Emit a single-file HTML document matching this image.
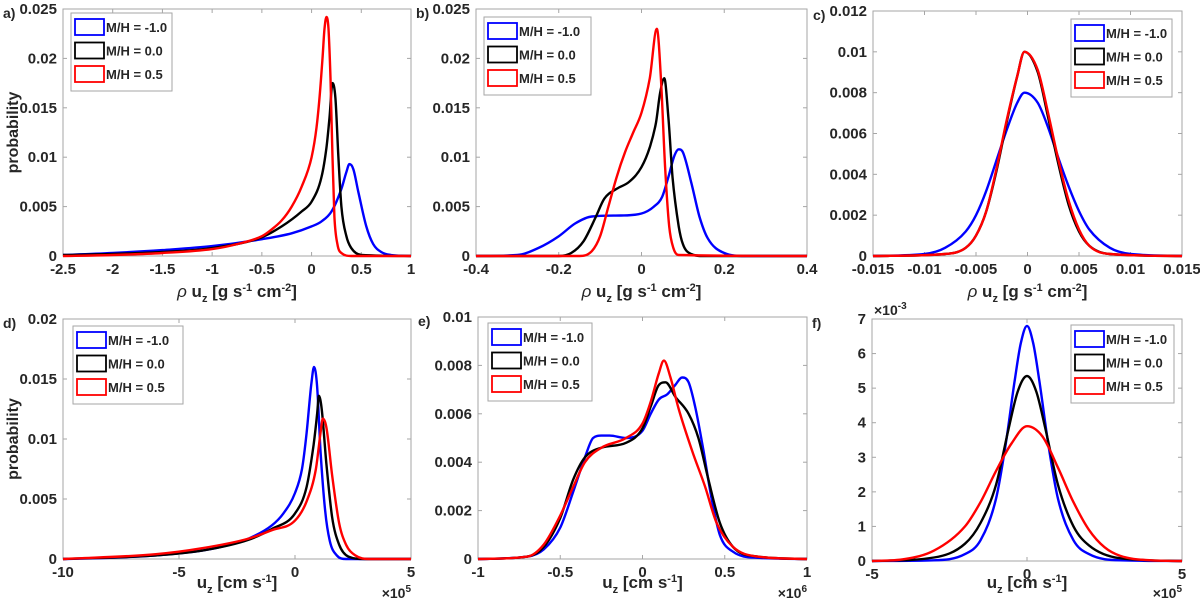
<!DOCTYPE html>
<html><head><meta charset="utf-8"><style>
body{margin:0;background:#fff;}
svg{display:block;font-family:"Liberation Sans",sans-serif;}
text{fill:#262626;font-weight:bold;}
</style></head><body>
<svg id="fig" width="1200" height="603" viewBox="0 0 1200 603"></svg>
<script>
const legendLabels=["M/H = -1.0","M/H = 0.0","M/H = 0.5"];
const seriesColors=["#0000ff","#000000","#ff0000"];
// panel a
const aX=[[-2.5,-2,-1.5,-1,-0.5,-0.2,0,0.1,0.2,0.3,0.35,0.38,0.42,0.47,0.55,0.62,0.7,0.8,1],[-2.5,-2,-1.5,-1,-0.5,-0.3,-0.1,0,0.1,0.15,0.18,0.21,0.24,0.27,0.3,0.35,0.4,0.5,1],[-2.5,-2,-1.5,-1,-0.75,-0.5,-0.4,-0.3,-0.2,-0.1,0,0.05,0.08,0.11,0.13,0.15,0.17,0.19,0.21,0.23,0.26,0.3,0.4,1]];
const aY=[[0.0001,0.0003,0.0006,0.001,0.0017,0.0023,0.003,0.0035,0.0045,0.0068,0.0085,0.0093,0.0088,0.0065,0.003,0.0012,0.0004,0.0001,0],[0.0001,0.0002,0.0004,0.0008,0.0019,0.003,0.0045,0.0055,0.008,0.011,0.014,0.0175,0.016,0.01,0.005,0.002,0.0008,0.0001,0],[0,0.0001,0.0003,0.0007,0.0012,0.002,0.0027,0.0036,0.005,0.007,0.01,0.013,0.016,0.02,0.023,0.0242,0.023,0.018,0.01,0.004,0.0012,0.0003,0,0]];
// panel b
const bX=[[-0.4,-0.3,-0.25,-0.2,-0.16,-0.12,-0.05,0,0.03,0.05,0.065,0.08,0.09,0.1,0.12,0.14,0.16,0.2,0.25,0.4],[-0.4,-0.2,-0.17,-0.14,-0.11,-0.09,-0.06,-0.03,0,0.02,0.035,0.045,0.055,0.065,0.075,0.09,0.1,0.12,0.15,0.4],[-0.4,-0.15,-0.12,-0.1,-0.08,-0.06,-0.04,-0.02,0,0.02,0.037,0.047,0.057,0.067,0.077,0.09,0.4]];
const bY=[[0,0.0001,0.0008,0.002,0.0033,0.004,0.0041,0.0043,0.005,0.006,0.008,0.0102,0.0108,0.0105,0.0075,0.004,0.0018,0.0003,0,0],[0,0,0.0003,0.0015,0.004,0.0058,0.0068,0.0075,0.009,0.011,0.0135,0.0165,0.018,0.014,0.008,0.003,0.0012,0.0002,0,0],[0,0,0.0005,0.002,0.005,0.008,0.0105,0.0125,0.0145,0.018,0.023,0.018,0.009,0.003,0.0008,0.0001,0]];
// panel c
const cX=[[-0.015,-0.01,-0.008,-0.006,-0.005,-0.004,-0.003,-0.002,-0.001,-0.0003,0.001,0.002,0.003,0.004,0.005,0.006,0.008,0.01,0.015],[-0.015,-0.008,-0.006,-0.005,-0.004,-0.003,-0.002,-0.001,-0.0003,0.001,0.002,0.003,0.004,0.005,0.006,0.008,0.015],[-0.015,-0.008,-0.006,-0.005,-0.004,-0.003,-0.002,-0.001,-0.0003,0.001,0.002,0.003,0.004,0.005,0.006,0.008,0.015]];
const cY=[[0,0.0001,0.0004,0.0012,0.002,0.0032,0.0047,0.0062,0.0075,0.008,0.0075,0.0063,0.0048,0.0034,0.0022,0.0013,0.0004,0.0001,0],[0,0.0001,0.0004,0.001,0.0022,0.0042,0.0066,0.0088,0.01,0.009,0.0068,0.0045,0.0025,0.0012,0.0005,0.0001,0],[0,0.0001,0.0004,0.001,0.0022,0.0043,0.0067,0.0088,0.01,0.0091,0.007,0.0047,0.0027,0.0013,0.0005,0.0001,0]];
// panel d (x in 1e5)
const dX=[[-10,-8,-6,-4,-3,-2,-1,-0.5,0,0.3,0.5,0.7,0.82,0.95,1.1,1.3,1.5,1.8,2.2,5],[-10,-6,-4,-2,-1,0,0.5,0.8,0.95,1.03,1.15,1.35,1.6,1.9,2.3,3,5],[-10,-6,-4,-2,-1,0,0.5,0.9,1.1,1.2,1.35,1.6,1.9,2.2,2.6,3.2,5]];
const dY=[[0,0.0001,0.0003,0.0007,0.0011,0.0017,0.0028,0.0038,0.0055,0.0075,0.0105,0.0145,0.016,0.0145,0.009,0.004,0.0015,0.0003,0,0],[0,0.0003,0.0007,0.0016,0.0025,0.0038,0.006,0.0095,0.012,0.0136,0.0125,0.008,0.0035,0.0012,0.0002,0,0],[0,0.0004,0.0009,0.0017,0.0024,0.0032,0.0048,0.0075,0.0105,0.0117,0.011,0.007,0.003,0.0012,0.0003,0,0]];
// panel e (x in 1e6)
const eX=[[-1,-0.7,-0.6,-0.5,-0.42,-0.35,-0.3,-0.25,-0.2,-0.1,0,0.05,0.1,0.15,0.2,0.24,0.28,0.32,0.37,0.42,0.47,0.55,0.7,1],[-1,-0.7,-0.6,-0.5,-0.42,-0.35,-0.25,-0.1,0,0.05,0.1,0.14,0.2,0.28,0.34,0.4,0.47,0.55,0.7,1],[-1,-0.7,-0.6,-0.5,-0.42,-0.35,-0.25,-0.1,0,0.05,0.1,0.13,0.17,0.22,0.3,0.38,0.45,0.55,0.7,1]];
const eY=[[0,0.0001,0.0004,0.0013,0.0028,0.0042,0.005,0.0051,0.0051,0.005,0.0053,0.006,0.0066,0.0068,0.0072,0.0075,0.0073,0.0063,0.0045,0.0025,0.001,0.0003,0.00005,0],[0,0.0001,0.0005,0.0017,0.0033,0.0042,0.0046,0.0048,0.0054,0.0063,0.0072,0.0073,0.0067,0.006,0.005,0.0033,0.0015,0.0005,0.0001,0],[0,0.0001,0.0006,0.0018,0.003,0.004,0.0046,0.005,0.0056,0.0065,0.0077,0.0082,0.0075,0.0062,0.0045,0.003,0.0015,0.0005,0.0001,0]];
// panel f (x in 1e5, y in 1e-3)
const fX=[[-5,-3,-2,-1.5,-1,-0.7,-0.4,-0.2,0,0.2,0.4,0.7,1,1.5,2,3,5],[-5,-3,-2,-1.5,-1,-0.6,-0.3,0,0.3,0.6,1,1.5,2,3,5],[-5,-4,-3,-2,-1.5,-1,-0.5,0,0.5,1,1.5,2,2.5,3,4,5]];
const fY=[[0,0.02,0.2,0.6,1.8,3.3,5.2,6.3,6.8,6.3,5.2,3.3,1.8,0.6,0.2,0.02,0],[0,0.1,0.5,1.1,2.2,3.8,4.9,5.35,4.9,3.8,2.2,1.0,0.45,0.08,0],[0,0.05,0.3,1.0,1.7,2.6,3.4,3.9,3.6,2.7,1.7,0.9,0.4,0.15,0.02,0]];

const aXT=["-2.5","-2","-1.5","-1","-0.5","0","0.5","1"], aYT=["0","0.005","0.01","0.015","0.02","0.025"];
const bXT=["-0.4","-0.2","0","0.2","0.4"], bYT=aYT;
const cXT=["-0.015","-0.01","-0.005","0","0.005","0.01","0.015"], cYT=["0","0.002","0.004","0.006","0.008","0.01","0.012"];
const dXT=["-10","-5","0","5"], dYT=["0","0.005","0.01","0.015","0.02"];
const eXT=["-1","-0.5","0","0.5","1"], eYT=["0","0.002","0.004","0.006","0.008","0.01"];
const fXT=["-5","0","5"], fYT=["0","1","2","3","4","5","6","7"];

const NS="http://www.w3.org/2000/svg", svg=document.getElementById('fig');
function mk(tag,attrs,parent){const e=document.createElementNS(NS,tag);for(const k in attrs)e.setAttribute(k,attrs[k]);(parent||svg).appendChild(e);return e;}
// monotone cubic path through pixel points
function smoothPath(P){
 const n=P.length;if(n<2)return '';
 const d=[],m=[];
 for(let i=0;i<n-1;i++)d.push((P[i+1][1]-P[i][1])/(P[i+1][0]-P[i][0]));
 m[0]=d[0];m[n-1]=d[n-2];
 for(let i=1;i<n-1;i++){m[i]=(d[i-1]*d[i]<=0)?0:(d[i-1]+d[i])/2;}
 for(let i=0;i<n-1;i++){if(d[i]===0){m[i]=0;m[i+1]=0;continue;}
  const a=m[i]/d[i],b=m[i+1]/d[i],s=a*a+b*b;if(s>9){const t=3/Math.sqrt(s);m[i]=t*a*d[i];m[i+1]=t*b*d[i];}}
 let s='M'+P[0][0].toFixed(1)+','+P[0][1].toFixed(1);
 for(let i=0;i<n-1;i++){const h=(P[i+1][0]-P[i][0])/3;
  s+=' C'+(P[i][0]+h).toFixed(1)+','+(P[i][1]+m[i]*h).toFixed(1)+' '+(P[i+1][0]-h).toFixed(1)+','+(P[i+1][1]-m[i+1]*h).toFixed(1)+' '+P[i+1][0].toFixed(1)+','+P[i+1][1].toFixed(1);}
 return s;
}
const rhoLabel='<tspan font-style="italic" font-weight="normal">ρ</tspan> u<tspan dy="5" font-size="11">z</tspan><tspan dy="-5"> [g s</tspan><tspan dy="-6" font-size="11">-1</tspan><tspan dy="6"> cm</tspan><tspan dy="-6" font-size="11">-2</tspan><tspan dy="6">]</tspan>';
const uLabel='u<tspan dy="5" font-size="11">z</tspan><tspan dy="-5"> [cm s</tspan><tspan dy="-6" font-size="11">-1</tspan><tspan dy="6">]</tspan>';
const panels=[
 {id:'a',L:63,R:411,T:9,B:256,xt:aXT,yt:aYT,X:aX,Y:aY,lg:[71,13,101],ylab:true,xl:rhoLabel,xly:297},
 {id:'b',L:476,R:807,T:9,B:256,xt:bXT,yt:bYT,X:bX,Y:bY,lg:[484,17,107],xl:rhoLabel,xly:297},
 {id:'c',L:873,R:1182,T:11,B:256,xt:cXT,yt:cYT,X:cX,Y:cY,lg:[1071,19,101],xl:rhoLabel,xly:297},
 {id:'d',L:63,R:411,T:319,B:559,xt:dXT,yt:dYT,X:dX,Y:dY,lg:[73,326,110],ylab:true,xl:uLabel,xly:588,exp:'5'},
 {id:'e',L:478,R:807,T:317,B:559,xt:eXT,yt:eYT,X:eX,Y:eY,lg:[488,323,104],xl:uLabel,xly:588,exp:'6'},
 {id:'f',L:872,R:1182,T:319,B:561,xt:fXT,yt:fYT,X:fX,Y:fY,lg:[1071,325,103],xl:uLabel,xly:588,exp:'5',yexp:true}
];
panels.forEach(p=>{
 const g=mk('g',{});
 
 
 const x0=+p.xt[0],x1=+p.xt[p.xt.length-1],y0=+p.yt[0],y1=+p.yt[p.yt.length-1];
 const sx=v=>p.L+(v-x0)/(x1-x0)*(p.R-p.L), sy=v=>p.B-(v-y0)/(y1-y0)*(p.B-p.T);
 const box=mk('rect',{x:p.L,y:p.T,width:p.R-p.L,height:p.B-p.T,fill:'#fff',stroke:'#a6a6a6','stroke-width':1},g);
 
 
 p.xt.forEach(t=>{const x=sx(+t);
  mk('line',{x1:x,y1:p.B,x2:x,y2:p.B-4,stroke:'#a6a6a6'},g);mk('line',{x1:x,y1:p.T,x2:x,y2:p.T+4,stroke:'#a6a6a6'},g);
  const tx=mk('text',{x:x,y:p.B+18,'text-anchor':'middle','font-size':15},g);tx.textContent=t;
  
  });
 p.yt.forEach(t=>{const y=sy(+t);
  mk('line',{x1:p.L,y1:y,x2:p.L+4,y2:y,stroke:'#a6a6a6'},g);mk('line',{x1:p.R,y1:y,x2:p.R-4,y2:y,stroke:'#a6a6a6'},g);
  const ty=mk('text',{x:p.L-6,y:y+5,'text-anchor':'end','font-size':15},g);ty.textContent=t;
  
  });
 p.X.forEach((xs,i)=>{
  const P=xs.map((v,j)=>[sx(v),sy(p.Y[i][j])]);
  const pl=mk('path',{d:smoothPath(P),fill:'none',stroke:seriesColors[i],'stroke-width':2.4,'stroke-linejoin':'round'},g);
  
  
 });
 const [lx,ly,lw]=p.lg;
 const lg=mk('g',{},g);
 
 
 mk('rect',{x:lx,y:ly,width:lw,height:78,fill:'#fff',stroke:'#a6a6a6'},lg);
 legendLabels.forEach((s,i)=>{
  const yy=ly+6+i*23.5;
  mk('rect',{x:lx+4,y:yy,width:29,height:16,fill:'none',stroke:seriesColors[i],'stroke-width':1.8},lg);
  const t=mk('text',{x:lx+35,y:yy+13,'font-size':13},lg);t.textContent=s;
  
  
 });
 const pl=mk('text',{x:p.L-60,y:p.T+9,'font-size':14},g);pl.textContent=p.id+')';
 
 
 const xl=mk('text',{x:(p.L+p.R)/2,y:p.xly,'text-anchor':'middle','font-size':17,'font-weight':'normal'},g);xl.innerHTML=p.xl;
 
 
 if(p.ylab){const yl=mk('text',{x:0,y:0,'text-anchor':'middle','font-size':16,'font-weight':'normal',transform:`translate(18,${(p.T+p.B)/2}) rotate(-90)`},g);yl.textContent='probability';
  
  }
 if(p.exp){const e=mk('text',{x:p.R,y:598,'text-anchor':'end','font-size':14,'font-weight':'normal'},g);e.innerHTML='×10<tspan dy="-6" font-size="10">'+p.exp+'</tspan>';
  
  }
 if(p.yexp){const e=mk('text',{x:p.L+2,y:p.T-4,'font-size':14,'font-weight':'normal'},g);e.innerHTML='×10<tspan dy="-6" font-size="10">-3</tspan>';
  
  }
});
</script>
</body></html>
